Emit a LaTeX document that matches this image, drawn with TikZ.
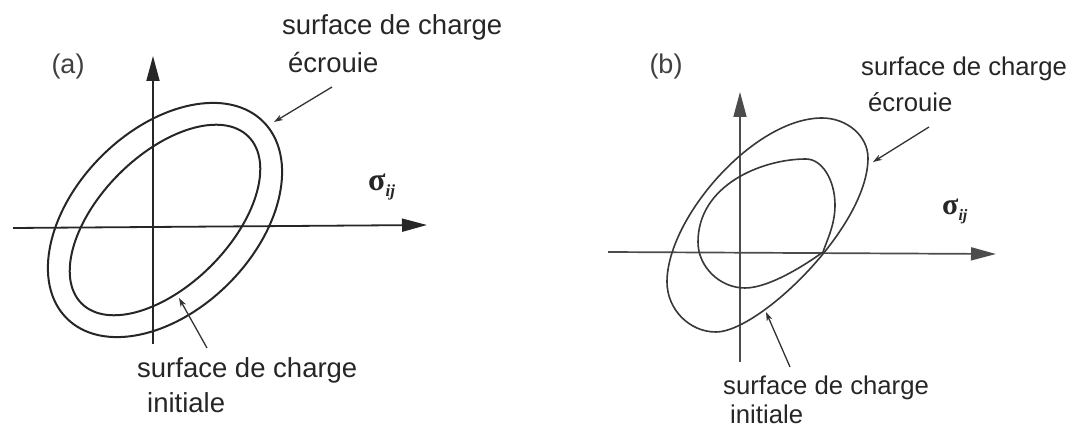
\documentclass[tikz,border=0pt]{standalone}
\usepackage{fontspec}
\setmainfont{Liberation Sans}
\newfontfamily\sigfont{Liberation Serif}
\usetikzlibrary{arrows.meta}
\begin{document}
\begin{tikzpicture}[x=1pt,y=-1pt,
  axis/.style={line width=1.8pt, draw=black!85, -{Triangle[length=25pt,width=13pt]}},
  axisb/.style={line width=1.7pt, draw=black!70, -{Triangle[length=25pt,width=13pt]}},
  curve/.style={line width=2pt, draw=black!85},
  curveb/.style={line width=1.6pt, draw=black!78},
  lbl/.style={anchor=base west, inner sep=0pt, text=black!85, font=\fontsize{27.5}{30}\selectfont},
  lblb/.style={anchor=base west, inner sep=0pt, text=black!85, font=\fontsize{25.7}{28}\selectfont},
  panel/.style={anchor=center, inner sep=0pt, text=black!75, font=\fontsize{27}{30}\selectfont},
  ptr/.style={line width=1.3pt, draw=black!80, -{Stealth[length=9pt,width=6pt]}},
  sig/.style={inner sep=0pt, anchor=base west, text=black!85}
]
\useasboundingbox (0,0) rectangle (1072,430);

% ---------------- panel (a) ----------------
\node[panel] (pa) at (68,67) {(a)};
\coordinate (aH0) at (13,228);
\coordinate (aH1) at (427,225);
\coordinate (aV0) at (153,344);
\coordinate (aV1) at (153,56);
\draw[axis] (aH0) -- (aH1);
\draw[axis] (aV0) -- (aV1);

\coordinate (cA) at (165,220);
% outer (ecrouie)
\draw[curve, rotate around={45:(cA)}] (cA) ellipse [x radius=139pt, y radius=90pt];
% inner (initiale)
\draw[curve, rotate around={45:(cA)}] (cA) ellipse [x radius=118pt, y radius=65pt];

\node[sig] (sigA) at (368,191) {\sigfont\bfseries\fontsize{32}{34}\selectfont σ\raisebox{-6pt}{\fontsize{17}{18}\selectfont\itshape ij}};

\node[lbl] (ecrA1) at (282,35) {surface de charge};
\node[lbl] (ecrA2) at (288,73) {écrouie};
\coordinate (ecrAs) at (332,87);
\coordinate (ecrAt) at (274,122);
\draw[ptr] (ecrAs) -- (ecrAt);

\node[lbl] (iniA1) at (137,378) {surface de charge};
\node[lbl] (iniA2) at (147,413) {initiale};
\coordinate (iniAs) at (207,348);
\coordinate (iniAt) at (179,298);
\draw[ptr] (iniAs) -- (iniAt);

% ---------------- panel (b) ----------------
\node[panel] (pb) at (666,67) {(b)};
\coordinate (bH0) at (608,252);
\coordinate (bH1) at (996,254);
\coordinate (bV0) at (740,362);
\coordinate (bV1) at (740,92);
\draw[axisb] (bH0) -- (bH1);
\draw[axisb] (bV0) -- (bV1);

% large surface
\coordinate (oT) at (822,118);
\coordinate (oR) at (868,158);
\coordinate (oB) at (716,332);
\coordinate (oL) at (667,282);
\draw[curveb] (oT) .. controls (847,118) and (868,136) .. (oR)
  .. controls (868,227) and (759,332) .. (oB)
  .. controls (689,332) and (667,309) .. (oL)
  .. controls (667,218) and (754,118) .. cycle;

% small surface
\coordinate (iT) at (806,159);
\coordinate (iR) at (835,205);
\coordinate (iP) at (823,252);
\coordinate (iB) at (745,288);
\coordinate (iL) at (698,242);
\draw[curveb] (iT) .. controls (822,159) and (835,180) .. (iR)
  .. controls (835,225) and (827,240) .. (iP)
  .. controls (808,263) and (770,288) .. (iB)
  .. controls (720,288) and (698,267) .. (iL)
  .. controls (698,185) and (762,159) .. cycle;

\node[sig] (sigB) at (942,215) {\sigfont\bfseries\fontsize{30}{32}\selectfont σ\raisebox{-6pt}{\fontsize{16}{18}\selectfont\itshape ij}};

\node[lblb] (ecrB1) at (861,76) {surface de charge};
\node[lblb] (ecrB2) at (868,112) {écrouie};
\coordinate (ecrBs) at (929,127);
\coordinate (ecrBt) at (873,162);
\draw[ptr] (ecrBs) -- (ecrBt);

\node[lblb] (iniB1) at (723,395) {surface de charge};
\node[lblb] (iniB2) at (730,424) {initiale};
\coordinate (iniBs) at (790,367);
\coordinate (iniBt) at (766,312);
\draw[ptr] (iniBs) -- (iniBt);
\end{tikzpicture}
\end{document}
